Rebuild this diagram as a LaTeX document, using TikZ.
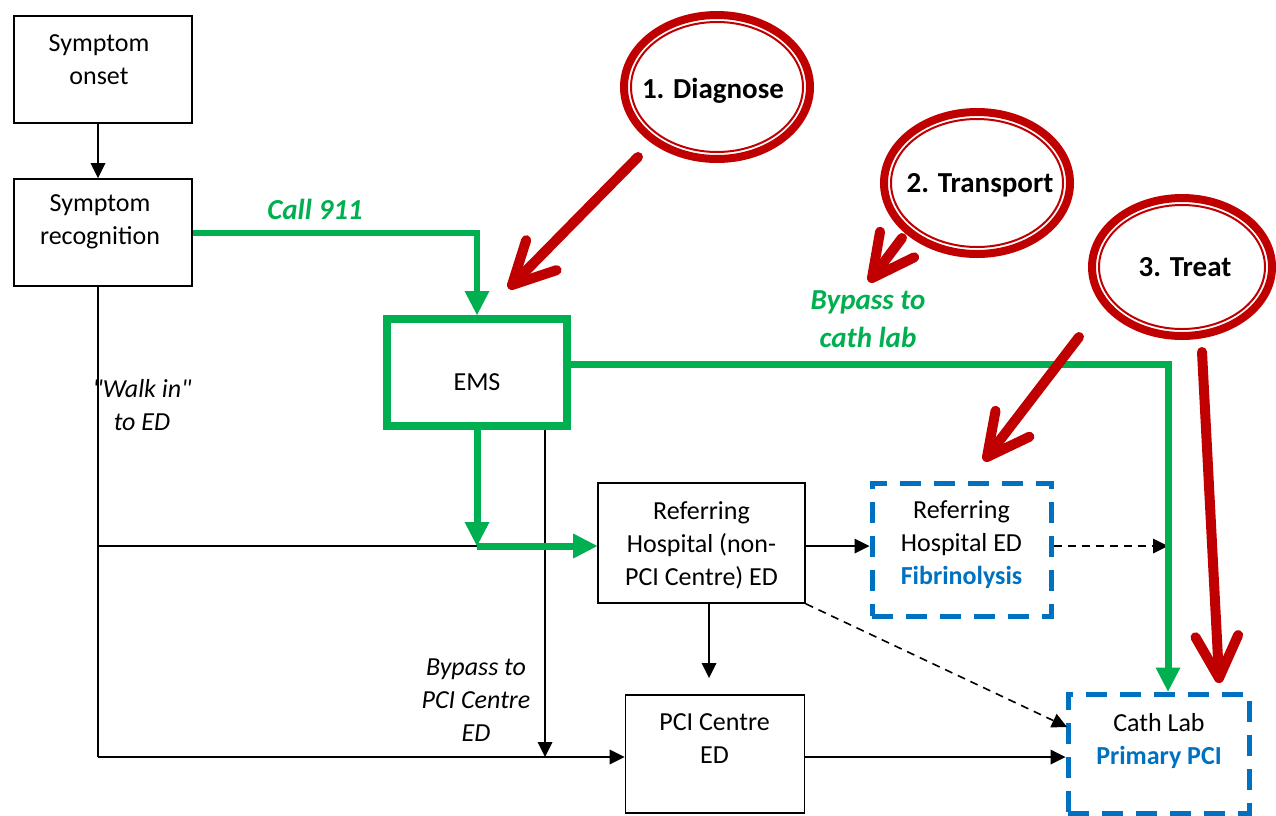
\documentclass[tikz,border=0pt]{standalone}
\usepackage{fontspec}
\setmainfont{Carlito}[Ligatures=TeXOff]
\usetikzlibrary{arrows.meta,calc}
\definecolor{gr}{HTML}{00B050}
\definecolor{rd}{HTML}{C00000}
\definecolor{bl}{HTML}{0070C0}
\begin{document}
\begin{tikzpicture}[x=1pt,y=-1pt,
  every node/.style={font=\fontsize{26}{33}\selectfont},
  box/.style={draw=black, line width=1.6pt, inner sep=0pt},
  dbox/.style={draw=bl, line width=5pt, dash pattern=on 21pt off 13pt, inner sep=0pt},
  emsbox/.style={draw=gr, line width=8pt, inner sep=0pt},
  txt/.style={align=center, inner sep=0pt},
  lbl/.style={align=center, inner sep=0pt, font=\fontsize{29}{38}\selectfont\bfseries},
  glbl/.style={lbl, text=gr, font=\fontsize{29}{38}\selectfont\bfseries\itshape},
  ilbl/.style={align=center, inner sep=0pt, font=\fontsize{26}{33}\selectfont\itshape},
  plain/.style={line width=1.6pt},
  blk/.style={line width=1.6pt, -{Triangle[length=15pt,width=15pt,line width=0pt]}},
  dsh/.style={blk, dash pattern=on 8pt off 6pt},
  grnline/.style={draw=gr, line width=7pt},
  grn/.style={grnline, -{Triangle[length=24pt,width=25pt,line width=0pt]}},
  redarr/.style={draw=rd, line width=10pt, line cap=round, line join=round},
  ring/.style={draw=rd, line width=8pt},
  thinring/.style={draw=rd, line width=2pt}
]
\useasboundingbox (0,0) rectangle (1276,815);

% boxes
\node[box, minimum width=178pt, minimum height=107pt] (onset) at (103,69.5) {};
\node[txt] (onsetT) at (99,60) {Symptom\\onset};
\node[box, minimum width=178pt, minimum height=107pt] (recog) at (103,232.5) {};
\node[txt] (recogT) at (100,222) {Symptom\\recognition};
\node[emsbox, minimum width=180pt, minimum height=107pt] (ems) at (477,372.5) {};
\node[txt] (emsT) at (477,382) {EMS};
\node[box, minimum width=207pt, minimum height=120pt] (refer) at (701.5,543) {};
\node[txt] (referT) at (701.5,545) {Referring\\Hospital (non-\\PCI Centre) ED};
\node[dbox, minimum width=179pt, minimum height=133pt] (rhed) at (961.5,549.5) {};
\node[txt] (rhedT) at (961.5,545) {Referring\\Hospital ED\\{\color{bl}\bfseries Fibrinolysis}};
\node[box, minimum width=179pt, minimum height=118pt] (pci) at (715,754) {};
\node[txt] (pciT) at (714.5,739) {PCI Centre\\ED};
\node[dbox, minimum width=181pt, minimum height=119pt] (cath) at (1158.5,753.5) {};
\node[txt] (cathT) at (1159,741) {Cath Lab\\{\color{bl}\bfseries Primary PCI}};

% coordinates
\coordinate (a0) at (98,178);
\coordinate (j2) at (477,546);
\coordinate (w2) at (98,546);
\coordinate (w1) at (98,757);
\coordinate (j3) at (545,757);
\coordinate (k) at (709,678);
\coordinate (g1) at (1168,364);
\coordinate (j4) at (1168,546);
\coordinate (c1) at (1067,727);

% black connectors
\draw[blk] (onset.south -| a0) -- (a0);
\draw[plain] (recog.south -| w1) -- (w1);
\draw[blk] (w1) -- (w1 -| pci.west);
\draw[plain] (w2) -- (j2);
\draw[blk] (ems.south -| j3) -- (j3);
\draw[blk] (refer.east |- j2) -- (rhed.west |- j2);
\draw[dsh] (rhed.east |- j2) -- (j4);
\draw[dsh] (refer.south east) -- (c1);
\draw[blk] (refer.south -| k) -- (k);
\draw[blk] (pci.east |- w1) -- (cath.west |- w1);

% green connectors
\draw[grn, line width=6pt] (recog.east) -| (ems.north);
\draw[grn] (ems.south) -- (j2);
\draw[grn] (j2) -- (refer.west |- j2);
\draw[grn] (ems.east |- g1) -| (cath.north -| g1);

% labels
\node[glbl] (call) at (315,209) {Call 911};
\node[glbl] (bycath) at (868,319) {Bypass to\\cath lab};
\node[ilbl] (walk) at (142,405) {{\char34}Walk in{\char34}\\to ED};
\node[ilbl] (bypci) at (476,700) {Bypass to\\PCI Centre\\ED};

% red rings
\node[lbl] (d1) at (713,91) {1. Diagnose};
\draw[ring] (717,87) ellipse [x radius=93, y radius=72];
\draw[thinring] (717,87) ellipse [x radius=86, y radius=65];
\node[lbl] (d2) at (980,185) {2. Transport};
\draw[ring] (977,183) ellipse [x radius=93, y radius=71];
\draw[thinring] (977,183) ellipse [x radius=86, y radius=64];
\node[lbl] (d3) at (1185,267) {3. Treat};
\draw[ring] (1182,267) ellipse [x radius=90, y radius=69];
\draw[thinring] (1182,267) ellipse [x radius=83, y radius=62];

% red arrows
\coordinate (r1s) at (638,157); \coordinate (r1t) at (512,285);
\coordinate (r2s) at (902,238); \coordinate (r2t) at (872,278);
\coordinate (r3s) at (1079,337); \coordinate (r3t) at (987,457);
\coordinate (r4s) at (1202,352); \coordinate (r4t) at (1219,678);
\foreach \s/\t in {r1s/r1t, r2s/r2t, r3s/r3t, r4s/r4t}{
  \draw[redarr] (\s) -- (\t);
  \draw[redarr] ($(\t)!47pt!27:(\s)$) -- (\t) -- ($(\t)!47pt!-27:(\s)$);
}
\end{tikzpicture}
\end{document}
